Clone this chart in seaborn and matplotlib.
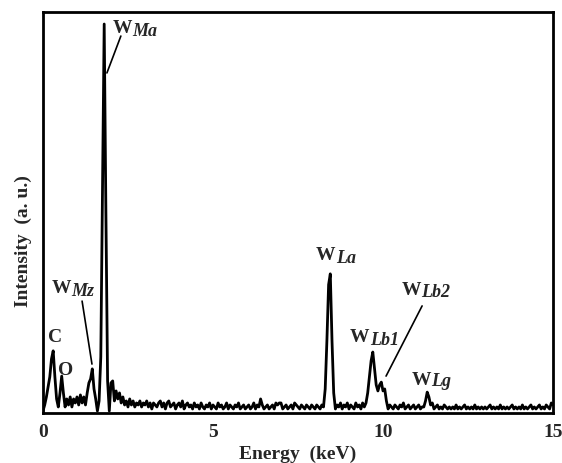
import numpy as np
import pandas as pd
import matplotlib
matplotlib.use("Agg")
import matplotlib.pyplot as plt
import seaborn as sns

# ---------------- data ----------------
# channel energies (keV), 0.05 keV per channel
energy = np.round(np.arange(301) * 0.05, 2)

# intensity (a.u.), one row per keV (20 channels each)
row00 = [0.5, 2.0, 4.0, 6.5, 9.0, 13.5, 15.5, 9.0, 3.5, 1.5, 5.0, 9.2, 5.0, 1.5, 3.5, 2.0, 4.0, 1.5, 3.5, 2.5]
row01 = [4.0, 2.0, 4.5, 2.5, 4.0, 2.0, 5.0, 7.5, 8.5, 11.0, 6.0, 3.5, 0.5, 3.0, 14.0, 55.0, 97.0, 50.0, 8.0, 0.5]
row02 = [7.5, 8.0, 3.0, 5.5, 3.5, 5.0, 2.5, 4.0, 2.0, 3.0, 1.5, 3.5, 2.0, 3.0, 1.5, 2.5, 2.0, 3.0, 1.5, 2.5]
row03 = [2.0, 3.0, 1.5, 2.5, 1.0, 2.5, 2.0, 1.5, 2.5, 3.0, 1.5, 2.5, 1.0, 2.5, 3.0, 1.5, 2.0, 2.5, 1.0, 2.0]
row04 = [2.5, 1.5, 3.0, 1.0, 2.0, 2.5, 1.5, 2.0, 1.0, 2.5, 1.5, 2.0, 1.0, 2.5, 1.5, 1.0, 2.0, 1.5, 2.5, 1.0]
row05 = [2.0, 1.5, 1.0, 2.5, 1.5, 2.0, 1.0, 1.5, 2.5, 1.0, 2.0, 1.5, 1.0, 2.0, 1.5, 2.5, 1.0, 1.5, 2.0, 1.0]
row06 = [1.5, 2.0, 1.0, 1.5, 2.5, 1.0, 2.0, 1.5, 3.5, 2.0, 1.0, 1.5, 2.0, 1.0, 1.5, 2.0, 1.0, 2.5, 2.0, 2.5]
row07 = [2.5, 1.0, 1.5, 2.0, 1.0, 1.5, 2.0, 1.0, 2.5, 2.0, 1.5, 1.0, 2.0, 1.5, 1.0, 2.0, 1.5, 1.0, 2.0, 1.5]
row08 = [1.0, 2.0, 1.5, 1.0, 2.0, 1.5, 6.0, 18.0, 32.0, 34.7, 18.0, 5.0, 1.0, 2.0, 1.5, 2.5, 1.0, 2.0, 1.5, 2.5]
row09 = [1.0, 2.0, 1.5, 1.0, 2.5, 1.5, 2.0, 1.0, 2.5, 1.5, 2.5, 5.0, 9.0, 13.0, 15.2, 11.0, 7.0, 5.5, 7.0, 7.7]
row10 = [5.5, 6.0, 3.0, 1.0, 2.0, 1.5, 1.0, 2.0, 1.5, 1.0, 2.0, 1.5, 2.5, 1.0, 1.5, 2.0, 1.0, 1.5, 2.0, 1.0]
row11 = [1.5, 2.0, 1.0, 1.5, 1.5, 3.0, 5.2, 4.0, 2.0, 2.5, 1.0, 1.5, 2.0, 1.0, 1.5, 1.0, 2.0, 1.5, 1.0, 1.5]
row12 = [1.0, 1.5, 1.0, 2.0, 1.0, 1.5, 1.0, 1.5, 2.0, 1.0, 1.5, 1.0, 1.5, 1.0, 2.0, 1.0, 1.5, 1.0, 1.5, 1.0]
row13 = [1.5, 1.0, 1.5, 2.0, 1.0, 1.5, 1.0, 1.5, 1.0, 2.0, 1.0, 1.5, 1.0, 1.5, 1.0, 1.5, 2.0, 1.0, 1.5, 1.0]
row14 = [1.5, 1.0, 2.0, 1.0, 1.5, 1.0, 1.5, 2.0, 1.0, 1.5, 1.0, 1.5, 2.0, 1.0, 1.5, 1.0, 2.0, 1.5, 1.0, 2.5]
row15 = [2.0]

intensity = (row00 + row01 + row02 + row03 + row04 + row05 + row06 + row07 +
             row08 + row09 + row10 + row11 + row12 + row13 + row14 + row15)

xticks = [0, 5, 10, 15]
xlabel = "Energy  (keV)"
ylabel = "Intensity  (a. u.)"

# ---------------- style ----------------
sns.set_style("white")
plt.rcParams["font.family"] = ["Liberation Serif", "DejaVu Serif"]
plt.rcParams["font.weight"] = "bold"

fig = plt.figure(figsize=(5.62, 4.64), dpi=100)
ax = fig.add_axes([0.0765, 0.1078, 0.9075, 0.8642])

df = pd.DataFrame({"Energy": energy, "Intensity": intensity})
sns.lineplot(data=df, x="Energy", y="Intensity", ax=ax, color="black",
             linewidth=2.0, estimator=None)

ax.set_xlim(0, 15)
ax.set_ylim(0, 100)
ax.set_xticks(xticks)
ax.set_xticklabels([str(t) for t in xticks], fontsize=14, fontweight="bold")
ax.set_yticks([])
ax.tick_params(axis="x", length=0, pad=7)

for sp in ax.spines.values():
    sp.set_visible(True)
    sp.set_color("black")
    sp.set_linewidth(2.0)

ax.set_xlabel(xlabel, fontsize=14, fontweight="bold")
ax.set_ylabel(ylabel, fontsize=14, fontweight="bold")
ax.xaxis.set_label_coords(0.5, -0.080)
ax.yaxis.set_label_coords(-0.021, 0.43)

# ---------------- peak labels ----------------
W_FS = 14
S_FS = 13

def peak_label(xw, yw, xs, ys, sub):
    ax.text(xw, yw, "W", fontsize=W_FS, fontweight="bold", ha="left", va="baseline")
    ax.text(xs, ys, sub, fontsize=S_FS, fontweight="bold", style="italic",
            ha="left", va="baseline")

peak_label(2.04, 95.0, 2.62, 94.3, "Ma")
peak_label(0.25, 30.2, 0.83, 29.4, "Mz")
peak_label(8.02, 38.4, 8.61, 37.7, "La")
peak_label(9.02, 18.0, 9.61, 17.2, "Lb1")
peak_label(10.55, 29.7, 11.13, 29.2, "Lb2")
peak_label(10.84, 7.2, 11.42, 7.0, "Lg")

ax.text(0.15, 18.0, "C", fontsize=W_FS, fontweight="bold", ha="left", va="baseline")
ax.text(0.44, 9.7, "O", fontsize=W_FS, fontweight="bold", ha="left", va="baseline")

# leader lines
ax.plot([2.29, 1.88], [94.0, 84.8], color="black", lw=1.2)
ax.plot([1.15, 1.44], [27.9, 12.2], color="black", lw=1.2)
ax.plot([11.15, 10.09], [26.7, 9.2], color="black", lw=1.2)

fig.savefig("out.png", dpi=100)
